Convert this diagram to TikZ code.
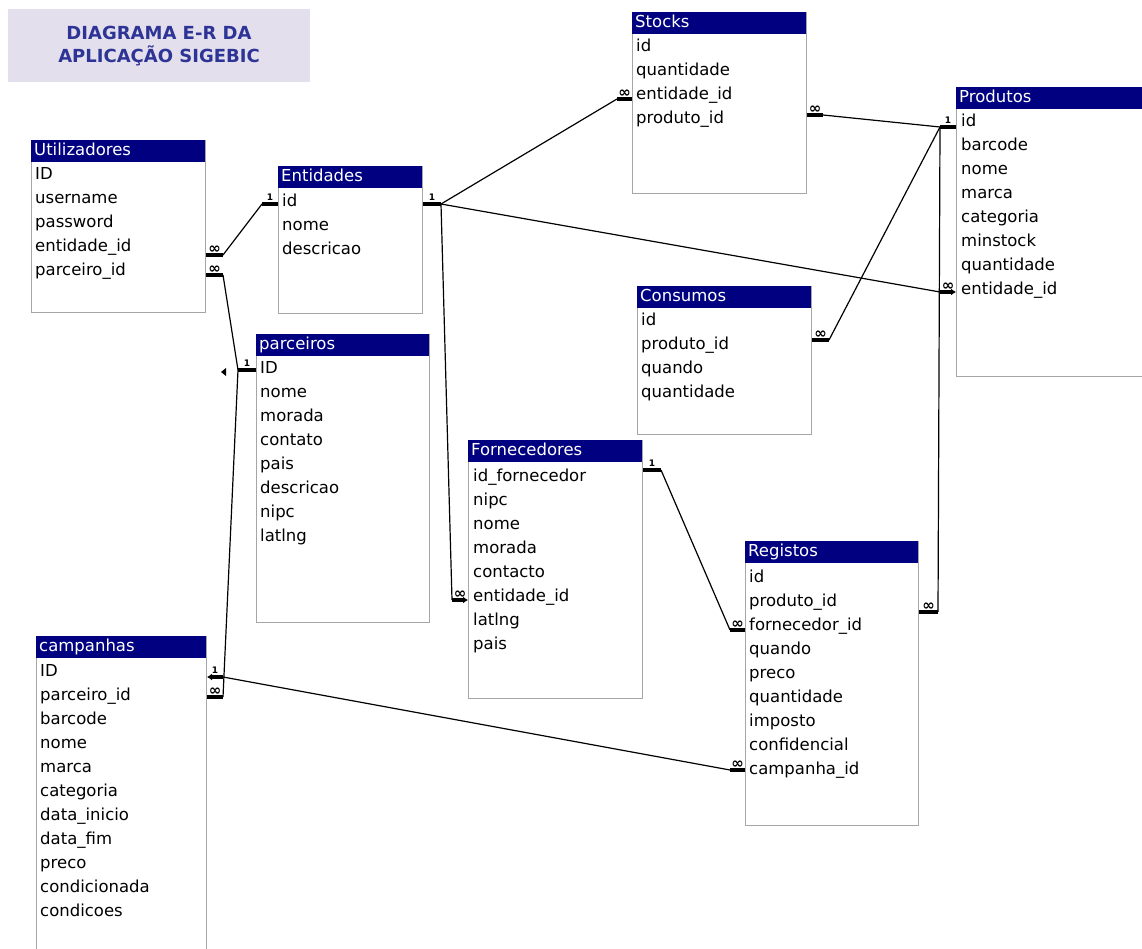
\documentclass[tikz,border=0pt]{standalone}
\usepackage{fontspec}
\setmainfont{DejaVu Sans}
\usepackage{xcolor}
\usetikzlibrary{arrows.meta,positioning,calc}

\definecolor{hdrblue}{RGB}{0,0,128}
\definecolor{titlebg}{RGB}{228,223,236}
\definecolor{titleblue}{RGB}{45,52,150}

\begin{document}
\begin{tikzpicture}[x=1pt, y=-1pt,
    tbl/.style={draw=gray!70, fill=white, line width=1pt, anchor=north west, inner sep=0pt},
    hdr/.style={fill=hdrblue, text=white, anchor=north west, align=left, inner xsep=3pt, inner ysep=0pt,
      minimum height=22pt, text height=12.5pt, text depth=3.5pt, font=\fontsize{16.5}{18}\selectfont},
    fld/.style={anchor=west, inner sep=0pt, text height=12.5pt, text depth=3.5pt, font=\fontsize{16.5}{18}\selectfont},
    rel/.style={line width=1.2pt},
    stub/.style={line width=3.5pt},
    tip/.style={-{Latex[length=5pt,width=7pt]}},
    one/.style={above=1.5pt, inner sep=0pt, font=\bfseries\fontsize{9}{9}\selectfont},
    inf/.style={above=0pt, inner sep=0pt, font=\bfseries\fontsize{15}{15}\selectfont}]
    \useasboundingbox (0,0) rectangle (1142,949);
    \clip (0,0) rectangle (1142,949);

    % title
    \node[fill=titlebg, minimum width=302pt, minimum height=73pt, align=center, text=titleblue,
      font=\bfseries\fontsize{18}{23}\selectfont] (title) at (159,46) {DIAGRAMA E-R DA\\APLICAÇÃO SIGEBIC};

    % Utilizadores
    \node[tbl, minimum width=174pt, minimum height=172pt] (util) at (31,140) {};
    \node[hdr, text width=168pt] (util-h) at (util.north west) {Utilizadores};
    \foreach \f [count=\i] in {ID,username,password,entidade\_id,parceiro\_id}
      \node[fld] (util-\i) at (35,151+24*\i) {\f};

    % Entidades
    \node[tbl, minimum width=144pt, minimum height=147pt] (ent) at (278,166) {};
    \node[hdr, text width=138pt] (ent-h) at (ent.north west) {Entidades};
    \foreach \f [count=\i] in {id,nome,descricao}
      \node[fld] (ent-\i) at (282,178+24*\i) {\f};

    % Stocks
    \node[tbl, minimum width=174pt, minimum height=181pt] (stocks) at (632,12) {};
    \node[hdr, text width=168pt] (stocks-h) at (stocks.north west) {Stocks};
    \foreach \f [count=\i] in {id,quantidade,entidade\_id,produto\_id}
      \node[fld] (stocks-\i) at (636,23+24*\i) {\f};

    % Produtos
    \node[tbl, minimum width=190pt, minimum height=289pt] (prod) at (956,87) {};
    \node[hdr, text width=184pt] (prod-h) at (prod.north west) {Produtos};
    \foreach \f [count=\i] in {id,barcode,nome,marca,categoria,minstock,quantidade,entidade\_id}
      \node[fld] (prod-\i) at (961,98+24*\i) {\f};

    % Consumos
    \node[tbl, minimum width=174pt, minimum height=148pt] (cons) at (637,286) {};
    \node[hdr, text width=168pt] (cons-h) at (cons.north west) {Consumos};
    \foreach \f [count=\i] in {id,produto\_id,quando,quantidade}
      \node[fld] (cons-\i) at (641,297+24*\i) {\f};

    % parceiros
    \node[tbl, minimum width=173pt, minimum height=288pt] (parc) at (256,334) {};
    \node[hdr, text width=167pt] (parc-h) at (parc.north west) {parceiros};
    \foreach \f [count=\i] in {ID,nome,morada,contato,pais,descricao,nipc,latlng}
      \node[fld] (parc-\i) at (260,345+24*\i) {\f};

    % Fornecedores
    \node[tbl, minimum width=174pt, minimum height=258pt] (forn) at (468,440) {};
    \node[hdr, text width=168pt] (forn-h) at (forn.north west) {Fornecedores};
    \foreach \f [count=\i] in {id\_fornecedor,nipc,nome,morada,contacto,entidade\_id,latlng,pais}
      \node[fld] (forn-\i) at (473,453+24*\i) {\f};

    % Registos
    \node[tbl, minimum width=173pt, minimum height=284pt] (reg) at (745,541) {};
    \node[hdr, text width=167pt] (reg-h) at (reg.north west) {Registos};
    \foreach \f [count=\i] in {id,produto\_id,fornecedor\_id,quando,preco,quantidade,imposto,confidencial,campanha\_id}
      \node[fld] (reg-\i) at (749,554+24*\i) {\f};

    % campanhas
    \node[tbl, minimum width=170pt, minimum height=330pt] (camp) at (36,636) {};
    \node[hdr, text width=164pt] (camp-h) at (camp.north west) {campanhas};
    \foreach \f [count=\i] in {ID,parceiro\_id,barcode,nome,marca,categoria,data\_inicio,data\_fim,preco,condicionada,condicoes}
      \node[fld] (camp-\i) at (40,648+24*\i) {\f};

    % Utilizadores -- Entidades
    \draw[stub] ($(util.east|-util-4)+(0,8)$) -- node[inf]{∞} ++(17,0) coordinate (u4);
    \draw[stub] ($(ent.west|-ent-1)+(0,2)$) -- node[one]{1} ++(-16,0) coordinate (e1l);
    \draw[rel] (u4) -- (e1l);

    % Utilizadores -- parceiros
    \draw[stub] ($(util.east|-util-5)+(0,4)$) -- node[inf]{∞} ++(17,0) coordinate (u5);
    \draw[stub] ($(parc.west|-parc-1)+(0,1)$) -- node[one]{1} ++(-18,0) coordinate (p1);
    \draw[rel] (u5) -- (p1);
    \fill ($(p1)+(-17,2)$) -- ++(5,-4) -- ++(0,8) -- cycle;

    % parceiros -- campanhas
    \draw[stub] ($(camp.east|-camp-2)+(0,1)$) -- node[inf]{∞} ++(16,0) coordinate (c2p);
    \draw[rel] (p1) -- (c2p);

    % campanhas -- Registos
    \coordinate (c1) at ($(camp.east|-camp-1)+(16,5)$);
    \draw[stub, tip] (c1) -- node[one]{1} (camp.east|-c1);
    \draw[stub] (reg.west|-reg-9) -- node[inf]{∞} ++(-15,0) coordinate (r9);
    \draw[rel] (c1) -- (r9);

    % Entidades -- Stocks, Produtos, Fornecedores
    \draw[stub] ($(ent.east|-ent-1)+(0,2)$) -- node[one]{1} ++(18,0) coordinate (e1r);
    \draw[stub] ($(stocks.west|-stocks-3)+(0,4)$) -- node[inf]{∞} ++(-15,0) coordinate (s3);
    \draw[rel] (e1r) -- (s3);
    \coordinate (pr8) at ($(prod.west|-prod-8)+(-16,2)$);
    \draw[stub, tip] (pr8) -- node[inf]{∞} (prod.west|-pr8);
    \draw[rel] (e1r) -- (pr8);
    \coordinate (f6) at ($(forn.west|-forn-6)+(-16,3)$);
    \draw[stub, tip] (f6) -- node[inf]{∞} (forn.west|-f6);
    \draw[rel] (e1r) -- (f6);

    % Produtos -- Stocks, Consumos, Registos
    \draw[stub] ($(stocks.east|-stocks-4)+(0,-4)$) -- node[inf]{∞} ++(16,0) coordinate (s4);
    \draw[stub] ($(prod.west|-prod-1)+(0,5)$) -- node[one]{1} ++(-16,0) coordinate (pr1);
    \draw[rel] (s4) -- (pr1);
    \draw[stub] ($(cons.east|-cons-2)+(0,-5)$) -- node[inf]{∞} ++(17,0) coordinate (c2);
    \draw[rel] (c2) -- (pr1);
    \draw[stub] ($(reg.east|-reg-2)+(0,10)$) -- node[inf]{∞} ++(19,0) coordinate (g2);
    \draw[rel] (g2) -- (pr1);

    % Fornecedores -- Registos
    \draw[stub] ($(forn.east|-forn-1)+(0,-7)$) -- node[one]{1} ++(18,0) coordinate (f1);
    \draw[stub] ($(reg.west|-reg-3)+(0,4)$) -- node[inf]{∞} ++(-15,0) coordinate (g3);
    \draw[rel] (f1) -- (g3);
\end{tikzpicture}
\end{document}
